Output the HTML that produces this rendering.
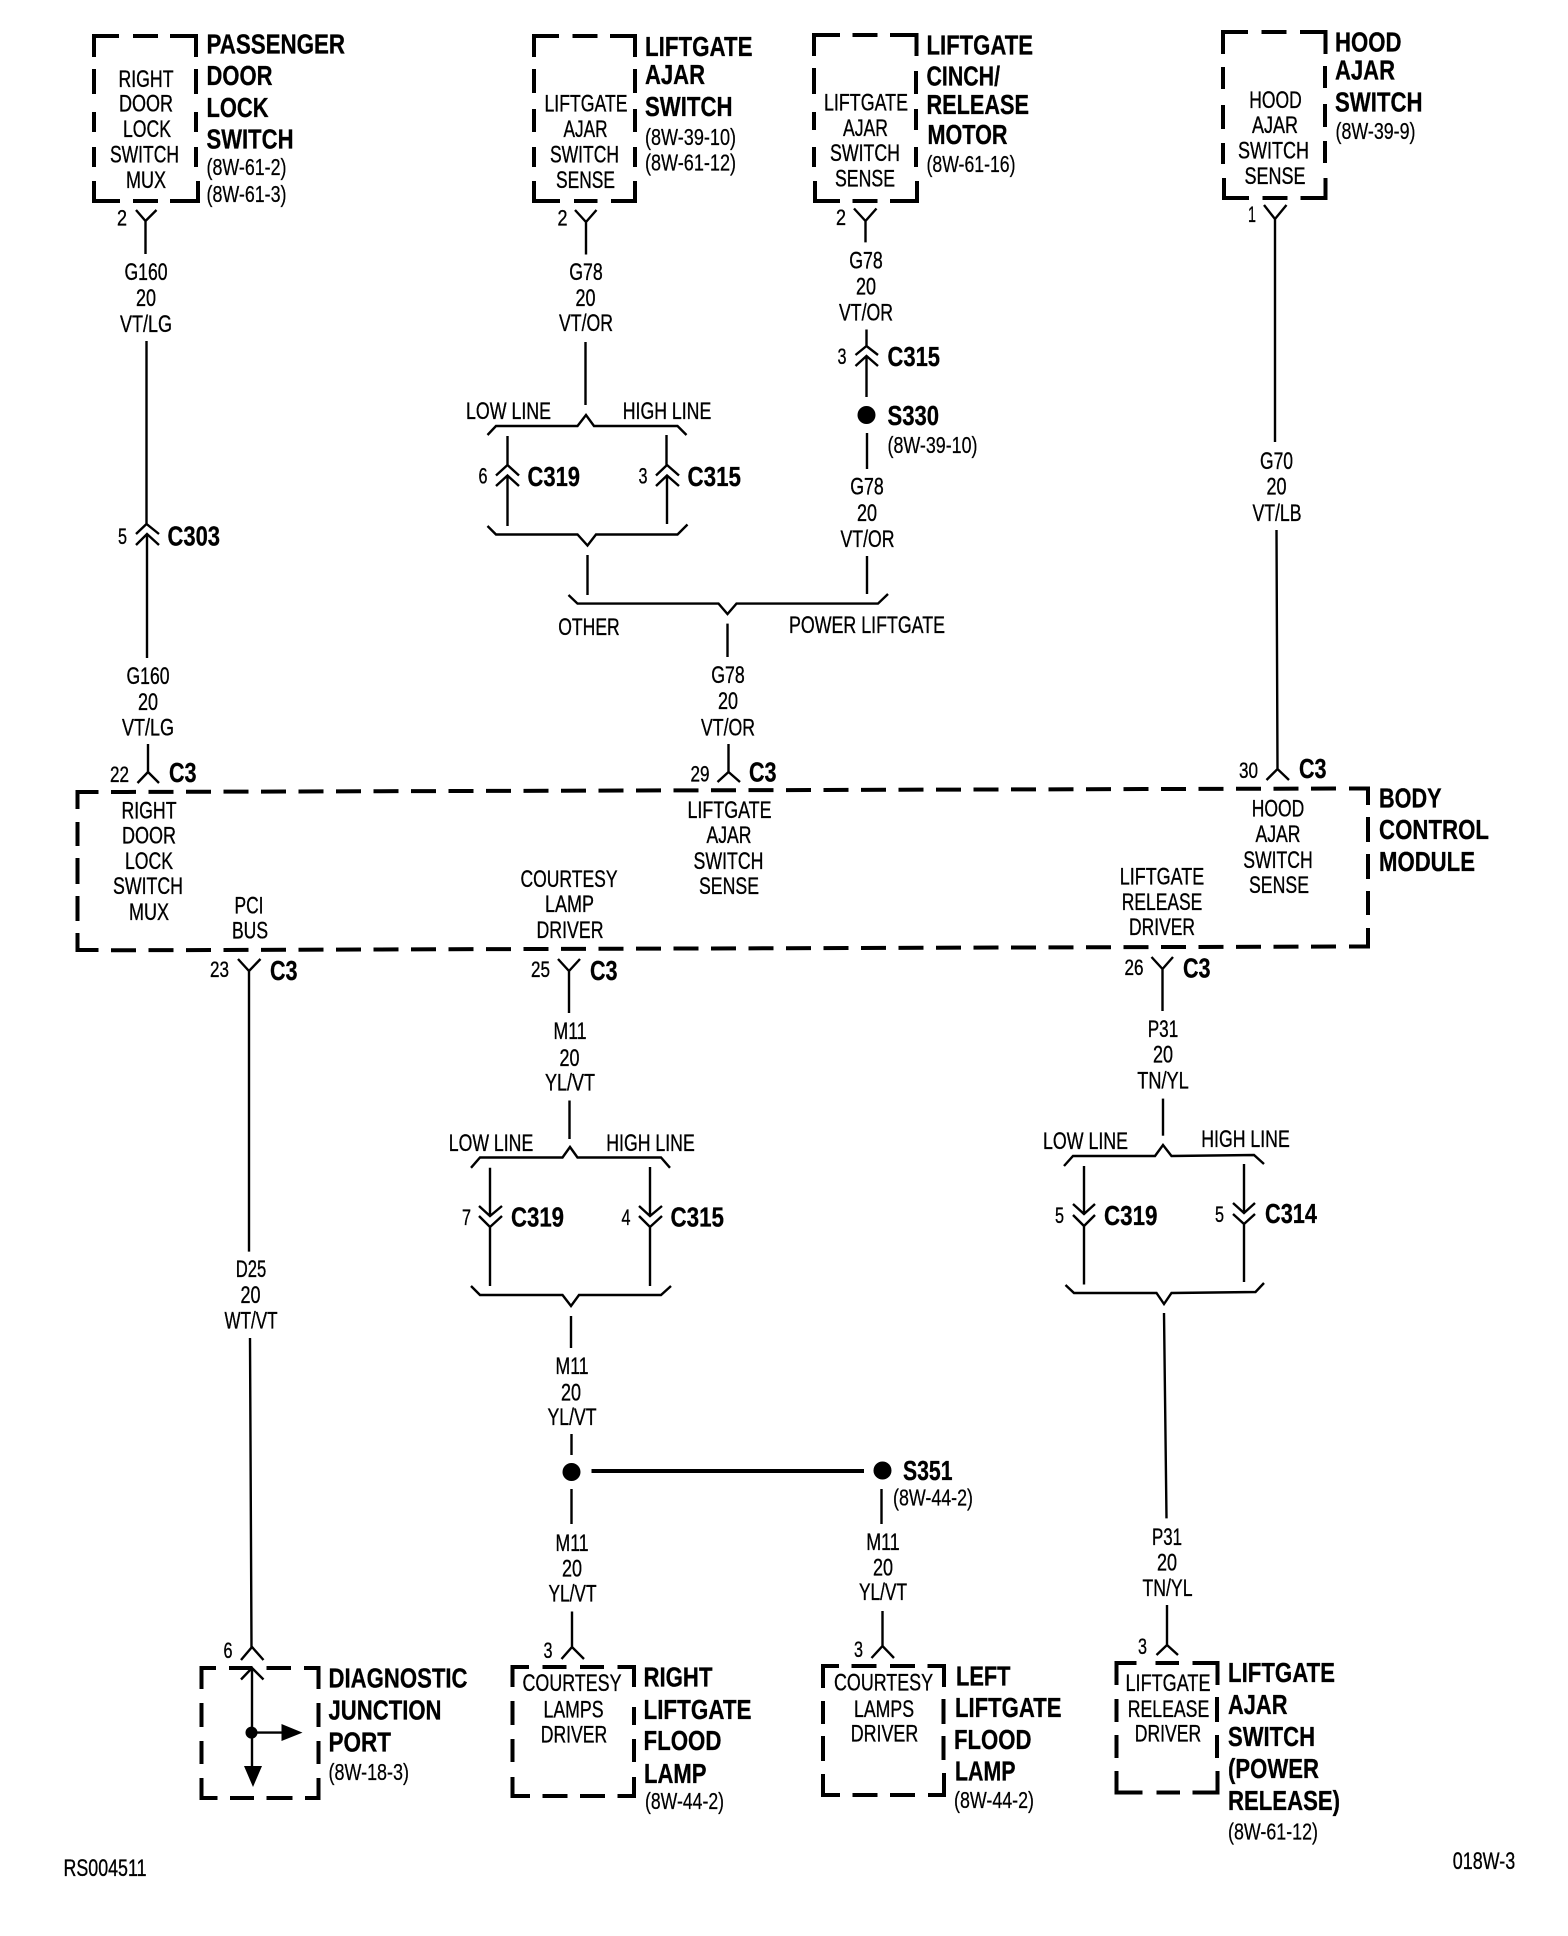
<!DOCTYPE html>
<html><head><meta charset="utf-8"><style>
html,body{margin:0;padding:0;background:#fff}
svg{display:block}
text{font-family:"Liberation Sans",sans-serif;fill:#000}
.n{font-size:24px;text-anchor:middle;stroke:#000;stroke-width:.35}
.s{font-size:22px;text-anchor:middle;stroke:#000;stroke-width:.35}
.l{font-size:23px;stroke:#000;stroke-width:.25}
.b{font-size:28px;font-weight:bold;stroke:#000;stroke-width:.3}
.w{fill:none;stroke:#000;stroke-width:2.4}
.h{fill:none;stroke:#000;stroke-width:4}
</style></head><body>
<svg width="1568" height="1936" viewBox="0 0 1568 1936" xmlns="http://www.w3.org/2000/svg">
<rect width="1568" height="1936" fill="#fff"/>

<!-- dashed boxes -->
<g class="h">
<path class="h" d="M94 57V36H119M133 36H158M170 36H196V57M94 69V94M94 112V132M94 147V167M94 181V201H120M133 201H158M170 201H198V181M196 69V94M196 112V132M196 147V167"/>
<path class="h" d="M534 57V36H559M572.500 36H597.500M610 36H635V57M534 69V93M534 109V132M534 147V167M534 181V201H560M574 201H597.500M611 201H635V181M635 69V93M635 109V132M635 147V167"/>
<path class="h" d="M814 56V35H840M852.500 35H877.500M890 35H916.500V56M814 68V94M814 112V130M814 147V167M815 181V201H840M852.500 201H877.500M890 201H917V181M916 71V94M916 109V130M916 147V167"/>
<path class="h" d="M1223 54V32H1248M1261.500 32H1286.500M1300 32H1325.500V54M1223 67V89M1223 105V129M1223 143V164M1224 178V198H1249M1262.500 198H1287.500M1300.500 198H1325.500V178M1325 66V88M1325 104V127M1325 141V163"/>
<path class="h" d="M201.500 1689V1668H216M229 1668H252.500M266.500 1668H291M304 1668H318.500V1689M201.500 1703V1727M201.500 1741V1764M201.500 1778V1798H217.500M230 1798H254M266.500 1798H292.500M305 1798H318.500V1778M318.500 1703V1727M318.500 1741V1764"/>
<path class="h" d="M512.500 1687V1667H529M542.500 1667H566.500M580 1667H604M617.500 1667H634V1687M512.500 1701V1725M512.500 1739V1762M512.500 1777V1796H530M542.500 1796H567.500M580 1796H605M617.500 1796H634V1777M634 1707V1725M634 1739V1762"/>
<path class="h" d="M823 1688V1666H839M851.500 1666H876.500M890 1666H915M927.500 1666H944V1687M823 1701V1724M823 1736V1761M823 1774V1795H840M852.500 1795H877.500M890 1795H915M928 1795H944V1773M943.500 1699V1724M943.500 1736V1760"/>
<path class="h" d="M1116.500 1685V1663H1136.500M1155.500 1663H1179M1192.500 1663H1217.500V1685M1116.500 1699V1722M1116.500 1735V1758M1116.500 1771V1792.500H1142.500M1156.500 1792.500H1180M1192.500 1792.500H1217.500V1771M1217 1697V1722M1217 1735V1758"/>
<!-- BCM -->
<path class="h" d="M77.500 809V792H98.500M77.500 822V846M77.500 858V884M77.500 896V921M77.500 933V950H98.500M1349 788.500H1368V805M1368 817V842M1368 854V879M1368 891V915M1368 928V946.500H1349"/>
<path d="M111 792L1340 788.500" fill="none" stroke="#000" stroke-width="4" stroke-dasharray="25 12.500"/>
<path d="M111 950.300L1340 946.500" fill="none" stroke="#000" stroke-width="4" stroke-dasharray="25 12.500"/>
</g>

<!-- wires -->
<g class="w">
<!-- col 1 -->
<path d="M136 210L145.500 221L156.500 210M145.500 221V254"/>
<path d="M146.500 341V524M136 534L146.500 524L159 534M136 545L147 534L159 545M147 534V658"/>
<path d="M148 744V772M137.500 783L148 772L159 783"/>
<!-- liftgate ajar -->
<path d="M575 210L586 222L596.500 210M586 222V254.500"/>
<path d="M585.500 342V405"/>
<path d="M487.500 435L496 426H577.500L586 415L594 426H677.500L686.500 435"/>
<path d="M507.500 436V465M496 475.500L507.500 465L519 475.500M496 486L507.500 475.500L519 486M507.500 475.500V526"/>
<path d="M666.500 435V465M656 475.500L667 465L679 475.500M656 486L667 475.500L679 486M667 475.500V524"/>
<path d="M487.500 526L496 534.500H577.500L587.500 545.500L596 534.500H677.500L687.500 524.500"/>
<path d="M587.500 555V595"/>
<path d="M568.500 595L577.500 603.600H718.500L727.500 614L736.500 603.600H878L888 594"/>
<path d="M727.500 623.600V657"/>
<path d="M728.500 744V772M717.500 782L728.500 772L740 782"/>
<!-- cinch -->
<path d="M854 208.500L865.500 221L876.500 208.500M865.500 221V242.400"/>
<path d="M866.500 329.500V346M855.500 355L866.500 346L878 355M855.500 366L866.500 356L878 366M866.500 356V397"/>
<path d="M867 433V469M867 556V594"/>
<!-- hood -->
<path d="M1264 205L1275 219L1286.500 205M1275 219V442"/>
<path d="M1276.500 530L1277.500 769M1266.500 780L1277.500 769L1289 780"/>
<!-- PCI -->
<path d="M238 959L249 971L260.500 959M249 971V1251.600"/>
<path d="M250 1338L251.500 1647M241 1660L252 1647L263.500 1660"/>
<path d="M241 1679.500L252 1668L263.500 1679.500M252 1668V1766M256 1732.600H282"/>
<!-- courtesy -->
<path d="M558 959L569 971L580 959M569 971V1013"/>
<path d="M569.500 1100.500V1139"/>
<path d="M471 1167.800L480 1157.500H562.500L570 1147L577.500 1157.500H661L670 1167.800"/>
<path d="M490 1167.800V1216M479 1206L490 1216L502 1206M479 1216L490 1227L502 1216M490 1227V1286"/>
<path d="M650 1167V1216M639 1206L650 1216L662 1206M639 1216L650 1227L662 1216M650 1227V1286"/>
<path d="M471 1286L480 1295H562.500L571 1306L579 1295H661L671 1286"/>
<path d="M571 1316V1348M571.500 1434V1455M571.500 1489V1524"/>
<path d="M572 1611.500V1647M561.500 1659L572 1647L584 1659"/>
<path d="M881.500 1489V1524M882.500 1611V1646M871.500 1658L882.500 1646L894 1658"/>
<!-- liftgate release -->
<path d="M1151.500 957L1162.500 969L1173 957M1162.500 969V1011"/>
<path d="M1163 1098.600V1135.700"/>
<path d="M1064 1166L1073 1156H1155L1163 1145L1171.500 1156L1254 1155L1264 1164"/>
<path d="M1084 1166V1214M1073 1204L1084 1214L1095 1204M1073 1215L1084 1226L1095 1215M1084 1226V1284.500"/>
<path d="M1244 1164V1213M1233 1203L1244 1213L1255 1203M1233 1214L1244 1224L1255 1214M1244 1224V1282"/>
<path d="M1065.500 1285L1074 1293H1156.500L1164 1304L1171.500 1293L1255.500 1292L1264 1283"/>
<path d="M1164 1313L1166.500 1518.400M1167 1605V1645M1156.500 1655L1167 1645L1178 1655"/>
</g>
<path d="M591.500 1471H864" fill="none" stroke="#000" stroke-width="4"/>
<circle cx="866.500" cy="415" r="9"/>
<circle cx="571.500" cy="1472" r="9"/>
<circle cx="882.500" cy="1470.500" r="9"/>
<circle cx="251.500" cy="1732.600" r="6"/>
<path d="M281.500 1724L302.500 1732.600L281.500 1741ZM244 1766L253 1787L262 1766Z"/>

<!-- Box 1 texts -->
<text class="n" x="146" y="87" textLength="55" lengthAdjust="spacingAndGlyphs">RIGHT</text>
<text class="n" x="146" y="111.600" textLength="54" lengthAdjust="spacingAndGlyphs">DOOR</text>
<text class="n" x="147" y="137" textLength="48" lengthAdjust="spacingAndGlyphs">LOCK</text>
<text class="n" x="144.500" y="162.500" textLength="69" lengthAdjust="spacingAndGlyphs">SWITCH</text>
<text class="n" x="146" y="188" textLength="40" lengthAdjust="spacingAndGlyphs">MUX</text>
<text class="b" x="206.500" y="53.600" textLength="138.500" lengthAdjust="spacingAndGlyphs">PASSENGER</text>
<text class="b" x="206.500" y="84.800" textLength="66" lengthAdjust="spacingAndGlyphs">DOOR</text>
<text class="b" x="206.500" y="117" textLength="62" lengthAdjust="spacingAndGlyphs">LOCK</text>
<text class="b" x="206.500" y="148.700" textLength="87" lengthAdjust="spacingAndGlyphs">SWITCH</text>
<text class="l" x="206.500" y="175" textLength="80" lengthAdjust="spacingAndGlyphs">(8W-61-2)</text>
<text class="l" x="206.500" y="202" textLength="80" lengthAdjust="spacingAndGlyphs">(8W-61-3)</text>
<text class="s" x="122" y="225.500" textLength="10" lengthAdjust="spacingAndGlyphs">2</text>
<text class="n" x="146" y="280" textLength="43" lengthAdjust="spacingAndGlyphs">G160</text>
<text class="n" x="146" y="306" textLength="20" lengthAdjust="spacingAndGlyphs">20</text>
<text class="n" x="146" y="332" textLength="52" lengthAdjust="spacingAndGlyphs">VT/LG</text>
<text class="s" x="122.500" y="544" textLength="9" lengthAdjust="spacingAndGlyphs">5</text>
<text class="b" x="167.500" y="545.500" textLength="52.500" lengthAdjust="spacingAndGlyphs">C303</text>
<text class="n" x="148" y="684" textLength="43" lengthAdjust="spacingAndGlyphs">G160</text>
<text class="n" x="148" y="710" textLength="20" lengthAdjust="spacingAndGlyphs">20</text>
<text class="n" x="148" y="735.600" textLength="52" lengthAdjust="spacingAndGlyphs">VT/LG</text>
<text class="s" x="119.500" y="782" textLength="19" lengthAdjust="spacingAndGlyphs">22</text>
<text class="b" x="169" y="782" textLength="27.500" lengthAdjust="spacingAndGlyphs">C3</text>

<!-- Liftgate ajar switch -->
<text class="n" x="586" y="111.600" textLength="83" lengthAdjust="spacingAndGlyphs">LIFTGATE</text>
<text class="n" x="585.500" y="137" textLength="44" lengthAdjust="spacingAndGlyphs">AJAR</text>
<text class="n" x="584.500" y="162.500" textLength="69" lengthAdjust="spacingAndGlyphs">SWITCH</text>
<text class="n" x="585.500" y="188" textLength="59" lengthAdjust="spacingAndGlyphs">SENSE</text>
<text class="b" x="645" y="55.800" textLength="107.500" lengthAdjust="spacingAndGlyphs">LIFTGATE</text>
<text class="b" x="645" y="84" textLength="60" lengthAdjust="spacingAndGlyphs">AJAR</text>
<text class="b" x="645" y="116" textLength="87.500" lengthAdjust="spacingAndGlyphs">SWITCH</text>
<text class="l" x="645" y="145" textLength="91" lengthAdjust="spacingAndGlyphs">(8W-39-10)</text>
<text class="l" x="645" y="170.500" textLength="91" lengthAdjust="spacingAndGlyphs">(8W-61-12)</text>
<text class="s" x="562.500" y="225.500" textLength="10" lengthAdjust="spacingAndGlyphs">2</text>
<text class="n" x="586" y="280" textLength="33.500" lengthAdjust="spacingAndGlyphs">G78</text>
<text class="n" x="585.500" y="306" textLength="20" lengthAdjust="spacingAndGlyphs">20</text>
<text class="n" x="586" y="331" textLength="54" lengthAdjust="spacingAndGlyphs">VT/OR</text>
<text class="n" x="508.500" y="419" textLength="85" lengthAdjust="spacingAndGlyphs">LOW LINE</text>
<text class="n" x="667" y="419" textLength="88.500" lengthAdjust="spacingAndGlyphs">HIGH LINE</text>
<text class="s" x="483" y="483.500" textLength="9" lengthAdjust="spacingAndGlyphs">6</text>
<text class="b" x="527.500" y="486" textLength="52.500" lengthAdjust="spacingAndGlyphs">C319</text>
<text class="s" x="643" y="483.500" textLength="9" lengthAdjust="spacingAndGlyphs">3</text>
<text class="b" x="687.500" y="486" textLength="53.500" lengthAdjust="spacingAndGlyphs">C315</text>
<text class="n" x="589" y="635" textLength="61.500" lengthAdjust="spacingAndGlyphs">OTHER</text>
<text class="n" x="867" y="633" textLength="156" lengthAdjust="spacingAndGlyphs">POWER LIFTGATE</text>
<text class="n" x="728" y="683" textLength="33.500" lengthAdjust="spacingAndGlyphs">G78</text>
<text class="n" x="728" y="709" textLength="20" lengthAdjust="spacingAndGlyphs">20</text>
<text class="n" x="728" y="735.600" textLength="54" lengthAdjust="spacingAndGlyphs">VT/OR</text>
<text class="s" x="700" y="781.500" textLength="19" lengthAdjust="spacingAndGlyphs">29</text>
<text class="b" x="749" y="781.500" textLength="27.500" lengthAdjust="spacingAndGlyphs">C3</text>

<!-- Cinch -->
<text class="n" x="866" y="110.700" textLength="84" lengthAdjust="spacingAndGlyphs">LIFTGATE</text>
<text class="n" x="865.500" y="136" textLength="45" lengthAdjust="spacingAndGlyphs">AJAR</text>
<text class="n" x="865" y="161" textLength="70" lengthAdjust="spacingAndGlyphs">SWITCH</text>
<text class="n" x="865" y="186.600" textLength="60" lengthAdjust="spacingAndGlyphs">SENSE</text>
<text class="b" x="926.500" y="54.500" textLength="106.500" lengthAdjust="spacingAndGlyphs">LIFTGATE</text>
<text class="b" x="926.500" y="85.700" textLength="73.500" lengthAdjust="spacingAndGlyphs">CINCH/</text>
<text class="b" x="926.500" y="114" textLength="102.500" lengthAdjust="spacingAndGlyphs">RELEASE</text>
<text class="b" x="927.500" y="144" textLength="80" lengthAdjust="spacingAndGlyphs">MOTOR</text>
<text class="l" x="926.500" y="172" textLength="89" lengthAdjust="spacingAndGlyphs">(8W-61-16)</text>
<text class="s" x="841" y="225" textLength="10" lengthAdjust="spacingAndGlyphs">2</text>
<text class="n" x="866" y="268.700" textLength="33.500" lengthAdjust="spacingAndGlyphs">G78</text>
<text class="n" x="866" y="294.600" textLength="20" lengthAdjust="spacingAndGlyphs">20</text>
<text class="n" x="866" y="320.500" textLength="54" lengthAdjust="spacingAndGlyphs">VT/OR</text>
<text class="s" x="842" y="364" textLength="9" lengthAdjust="spacingAndGlyphs">3</text>
<text class="b" x="887.500" y="366" textLength="52.500" lengthAdjust="spacingAndGlyphs">C315</text>
<text class="b" x="887.500" y="425" textLength="51.500" lengthAdjust="spacingAndGlyphs">S330</text>
<text class="l" x="887.500" y="453" textLength="90" lengthAdjust="spacingAndGlyphs">(8W-39-10)</text>
<text class="n" x="867" y="494.600" textLength="33.500" lengthAdjust="spacingAndGlyphs">G78</text>
<text class="n" x="867" y="521" textLength="20" lengthAdjust="spacingAndGlyphs">20</text>
<text class="n" x="867.500" y="547" textLength="54" lengthAdjust="spacingAndGlyphs">VT/OR</text>

<!-- Hood -->
<text class="n" x="1275.500" y="108" textLength="52.500" lengthAdjust="spacingAndGlyphs">HOOD</text>
<text class="n" x="1275" y="133" textLength="46" lengthAdjust="spacingAndGlyphs">AJAR</text>
<text class="n" x="1273.500" y="158.500" textLength="71" lengthAdjust="spacingAndGlyphs">SWITCH</text>
<text class="n" x="1275" y="184" textLength="61" lengthAdjust="spacingAndGlyphs">SENSE</text>
<text class="b" x="1335" y="51.300" textLength="66.500" lengthAdjust="spacingAndGlyphs">HOOD</text>
<text class="b" x="1335" y="79.500" textLength="60" lengthAdjust="spacingAndGlyphs">AJAR</text>
<text class="b" x="1335" y="111.600" textLength="87.500" lengthAdjust="spacingAndGlyphs">SWITCH</text>
<text class="l" x="1335.500" y="139" textLength="80" lengthAdjust="spacingAndGlyphs">(8W-39-9)</text>
<text class="s" x="1252" y="222" textLength="8" lengthAdjust="spacingAndGlyphs">1</text>
<text class="n" x="1276.500" y="469" textLength="33" lengthAdjust="spacingAndGlyphs">G70</text>
<text class="n" x="1276.500" y="494.600" textLength="20" lengthAdjust="spacingAndGlyphs">20</text>
<text class="n" x="1277" y="521" textLength="49" lengthAdjust="spacingAndGlyphs">VT/LB</text>
<text class="s" x="1248.500" y="778" textLength="19" lengthAdjust="spacingAndGlyphs">30</text>
<text class="b" x="1299" y="778" textLength="27.500" lengthAdjust="spacingAndGlyphs">C3</text>

<!-- BCM texts -->
<text class="n" x="149" y="818.600" textLength="55" lengthAdjust="spacingAndGlyphs">RIGHT</text>
<text class="n" x="149" y="843.500" textLength="54" lengthAdjust="spacingAndGlyphs">DOOR</text>
<text class="n" x="149" y="869" textLength="48" lengthAdjust="spacingAndGlyphs">LOCK</text>
<text class="n" x="148" y="894" textLength="70" lengthAdjust="spacingAndGlyphs">SWITCH</text>
<text class="n" x="149" y="920" textLength="40" lengthAdjust="spacingAndGlyphs">MUX</text>
<text class="n" x="249" y="913.500" textLength="29" lengthAdjust="spacingAndGlyphs">PCI</text>
<text class="n" x="250" y="938.400" textLength="36" lengthAdjust="spacingAndGlyphs">BUS</text>
<text class="n" x="569" y="887" textLength="97" lengthAdjust="spacingAndGlyphs">COURTESY</text>
<text class="n" x="569.500" y="912" textLength="49" lengthAdjust="spacingAndGlyphs">LAMP</text>
<text class="n" x="570" y="938" textLength="67" lengthAdjust="spacingAndGlyphs">DRIVER</text>
<text class="n" x="729.500" y="818" textLength="84" lengthAdjust="spacingAndGlyphs">LIFTGATE</text>
<text class="n" x="729" y="843" textLength="45" lengthAdjust="spacingAndGlyphs">AJAR</text>
<text class="n" x="728.500" y="869" textLength="70" lengthAdjust="spacingAndGlyphs">SWITCH</text>
<text class="n" x="729" y="894" textLength="60" lengthAdjust="spacingAndGlyphs">SENSE</text>
<text class="n" x="1278" y="816.600" textLength="52.500" lengthAdjust="spacingAndGlyphs">HOOD</text>
<text class="n" x="1278" y="842" textLength="45" lengthAdjust="spacingAndGlyphs">AJAR</text>
<text class="n" x="1278" y="868" textLength="69.500" lengthAdjust="spacingAndGlyphs">SWITCH</text>
<text class="n" x="1279" y="893" textLength="60" lengthAdjust="spacingAndGlyphs">SENSE</text>
<text class="n" x="1162" y="884.600" textLength="84.500" lengthAdjust="spacingAndGlyphs">LIFTGATE</text>
<text class="n" x="1162" y="910" textLength="80.500" lengthAdjust="spacingAndGlyphs">RELEASE</text>
<text class="n" x="1162" y="935" textLength="66" lengthAdjust="spacingAndGlyphs">DRIVER</text>
<text class="b" x="1379" y="807.500" textLength="62.500" lengthAdjust="spacingAndGlyphs">BODY</text>
<text class="b" x="1379" y="839" textLength="110" lengthAdjust="spacingAndGlyphs">CONTROL</text>
<text class="b" x="1379" y="871" textLength="96" lengthAdjust="spacingAndGlyphs">MODULE</text>

<!-- Below BCM col PCI -->
<text class="s" x="219.500" y="977" textLength="19" lengthAdjust="spacingAndGlyphs">23</text>
<text class="b" x="270" y="980" textLength="27.500" lengthAdjust="spacingAndGlyphs">C3</text>
<text class="n" x="251" y="1277" textLength="30.500" lengthAdjust="spacingAndGlyphs">D25</text>
<text class="n" x="250.500" y="1303" textLength="20" lengthAdjust="spacingAndGlyphs">20</text>
<text class="n" x="251" y="1328.600" textLength="53" lengthAdjust="spacingAndGlyphs">WT/VT</text>
<text class="s" x="228" y="1658" textLength="9" lengthAdjust="spacingAndGlyphs">6</text>
<text class="b" x="328.500" y="1687.400" textLength="139" lengthAdjust="spacingAndGlyphs">DIAGNOSTIC</text>
<text class="b" x="328.500" y="1719.600" textLength="113" lengthAdjust="spacingAndGlyphs">JUNCTION</text>
<text class="b" x="328.500" y="1751.400" textLength="62.500" lengthAdjust="spacingAndGlyphs">PORT</text>
<text class="l" x="328.500" y="1780" textLength="80.500" lengthAdjust="spacingAndGlyphs">(8W-18-3)</text>
<text class="n" x="105" y="1876" textLength="83" lengthAdjust="spacingAndGlyphs">RS004511</text>

<!-- Courtesy column -->
<text class="s" x="540.500" y="977" textLength="19" lengthAdjust="spacingAndGlyphs">25</text>
<text class="b" x="590" y="980" textLength="27.500" lengthAdjust="spacingAndGlyphs">C3</text>
<text class="n" x="570" y="1039" textLength="33" lengthAdjust="spacingAndGlyphs">M11</text>
<text class="n" x="569.500" y="1066" textLength="20" lengthAdjust="spacingAndGlyphs">20</text>
<text class="n" x="570" y="1090.600" textLength="50" lengthAdjust="spacingAndGlyphs">YL/VT</text>
<text class="n" x="491" y="1150.800" textLength="84.500" lengthAdjust="spacingAndGlyphs">LOW LINE</text>
<text class="n" x="650.500" y="1150.800" textLength="88.500" lengthAdjust="spacingAndGlyphs">HIGH LINE</text>
<text class="s" x="466.500" y="1225" textLength="9" lengthAdjust="spacingAndGlyphs">7</text>
<text class="b" x="511" y="1226.700" textLength="53" lengthAdjust="spacingAndGlyphs">C319</text>
<text class="s" x="626" y="1225" textLength="9" lengthAdjust="spacingAndGlyphs">4</text>
<text class="b" x="670.500" y="1226.700" textLength="53.500" lengthAdjust="spacingAndGlyphs">C315</text>
<text class="n" x="572" y="1374" textLength="33" lengthAdjust="spacingAndGlyphs">M11</text>
<text class="n" x="571" y="1400.500" textLength="20" lengthAdjust="spacingAndGlyphs">20</text>
<text class="n" x="572" y="1425" textLength="49" lengthAdjust="spacingAndGlyphs">YL/VT</text>
<text class="n" x="572" y="1551" textLength="33" lengthAdjust="spacingAndGlyphs">M11</text>
<text class="n" x="572" y="1576.600" textLength="20" lengthAdjust="spacingAndGlyphs">20</text>
<text class="n" x="572.500" y="1601.700" textLength="48" lengthAdjust="spacingAndGlyphs">YL/VT</text>
<text class="s" x="548" y="1658" textLength="9" lengthAdjust="spacingAndGlyphs">3</text>
<text class="n" x="572" y="1691" textLength="99" lengthAdjust="spacingAndGlyphs">COURTESY</text>
<text class="n" x="573.500" y="1717.600" textLength="60" lengthAdjust="spacingAndGlyphs">LAMPS</text>
<text class="n" x="574" y="1742.400" textLength="66.500" lengthAdjust="spacingAndGlyphs">DRIVER</text>
<text class="b" x="643.500" y="1686.600" textLength="69" lengthAdjust="spacingAndGlyphs">RIGHT</text>
<text class="b" x="643.500" y="1718.800" textLength="108" lengthAdjust="spacingAndGlyphs">LIFTGATE</text>
<text class="b" x="643.500" y="1750" textLength="78" lengthAdjust="spacingAndGlyphs">FLOOD</text>
<text class="b" x="644" y="1783" textLength="62.500" lengthAdjust="spacingAndGlyphs">LAMP</text>
<text class="l" x="645" y="1809" textLength="79" lengthAdjust="spacingAndGlyphs">(8W-44-2)</text>

<!-- S351 -->
<text class="b" x="903" y="1480" textLength="49.500" lengthAdjust="spacingAndGlyphs">S351</text>
<text class="l" x="893" y="1505.500" textLength="80" lengthAdjust="spacingAndGlyphs">(8W-44-2)</text>
<text class="n" x="883" y="1550" textLength="33.500" lengthAdjust="spacingAndGlyphs">M11</text>
<text class="n" x="883" y="1575.400" textLength="20" lengthAdjust="spacingAndGlyphs">20</text>
<text class="n" x="883" y="1600" textLength="48" lengthAdjust="spacingAndGlyphs">YL/VT</text>
<text class="s" x="858.500" y="1657" textLength="9" lengthAdjust="spacingAndGlyphs">3</text>
<text class="n" x="883.500" y="1690.500" textLength="99" lengthAdjust="spacingAndGlyphs">COURTESY</text>
<text class="n" x="884" y="1717" textLength="60" lengthAdjust="spacingAndGlyphs">LAMPS</text>
<text class="n" x="884.500" y="1741.600" textLength="67.500" lengthAdjust="spacingAndGlyphs">DRIVER</text>
<text class="b" x="956" y="1685.400" textLength="54.500" lengthAdjust="spacingAndGlyphs">LEFT</text>
<text class="b" x="955" y="1717" textLength="106.500" lengthAdjust="spacingAndGlyphs">LIFTGATE</text>
<text class="b" x="954" y="1749" textLength="77.500" lengthAdjust="spacingAndGlyphs">FLOOD</text>
<text class="b" x="955" y="1780.500" textLength="60.500" lengthAdjust="spacingAndGlyphs">LAMP</text>
<text class="l" x="954" y="1808" textLength="80" lengthAdjust="spacingAndGlyphs">(8W-44-2)</text>

<!-- Release column -->
<text class="s" x="1134" y="975" textLength="19" lengthAdjust="spacingAndGlyphs">26</text>
<text class="b" x="1183" y="977.600" textLength="27.500" lengthAdjust="spacingAndGlyphs">C3</text>
<text class="n" x="1163" y="1037" textLength="30.500" lengthAdjust="spacingAndGlyphs">P31</text>
<text class="n" x="1163" y="1062.600" textLength="20" lengthAdjust="spacingAndGlyphs">20</text>
<text class="n" x="1163" y="1088.700" textLength="51.500" lengthAdjust="spacingAndGlyphs">TN/YL</text>
<text class="n" x="1085.500" y="1149" textLength="85" lengthAdjust="spacingAndGlyphs">LOW LINE</text>
<text class="n" x="1245.500" y="1147" textLength="88.500" lengthAdjust="spacingAndGlyphs">HIGH LINE</text>
<text class="s" x="1059.500" y="1223" textLength="9" lengthAdjust="spacingAndGlyphs">5</text>
<text class="b" x="1104" y="1225" textLength="53.500" lengthAdjust="spacingAndGlyphs">C319</text>
<text class="s" x="1219.500" y="1222" textLength="9" lengthAdjust="spacingAndGlyphs">5</text>
<text class="b" x="1265" y="1223" textLength="52" lengthAdjust="spacingAndGlyphs">C314</text>
<text class="n" x="1167" y="1545" textLength="30" lengthAdjust="spacingAndGlyphs">P31</text>
<text class="n" x="1167" y="1570.700" textLength="20" lengthAdjust="spacingAndGlyphs">20</text>
<text class="n" x="1167.500" y="1596" textLength="50" lengthAdjust="spacingAndGlyphs">TN/YL</text>
<text class="s" x="1142.500" y="1654" textLength="9" lengthAdjust="spacingAndGlyphs">3</text>
<text class="n" x="1168" y="1691" textLength="85" lengthAdjust="spacingAndGlyphs">LIFTGATE</text>
<text class="n" x="1168.500" y="1717" textLength="81.500" lengthAdjust="spacingAndGlyphs">RELEASE</text>
<text class="n" x="1168" y="1741.600" textLength="66.500" lengthAdjust="spacingAndGlyphs">DRIVER</text>
<text class="b" x="1228" y="1682" textLength="107" lengthAdjust="spacingAndGlyphs">LIFTGATE</text>
<text class="b" x="1228" y="1714" textLength="59.500" lengthAdjust="spacingAndGlyphs">AJAR</text>
<text class="b" x="1228" y="1746" textLength="87" lengthAdjust="spacingAndGlyphs">SWITCH</text>
<text class="b" x="1228" y="1778" textLength="91" lengthAdjust="spacingAndGlyphs">(POWER</text>
<text class="b" x="1228" y="1810" textLength="112" lengthAdjust="spacingAndGlyphs">RELEASE)</text>
<text class="l" x="1228" y="1839.500" textLength="90" lengthAdjust="spacingAndGlyphs">(8W-61-12)</text>
<text class="n" x="1484" y="1869" textLength="62.500" lengthAdjust="spacingAndGlyphs">018W-3</text>
</svg>
</body></html>
